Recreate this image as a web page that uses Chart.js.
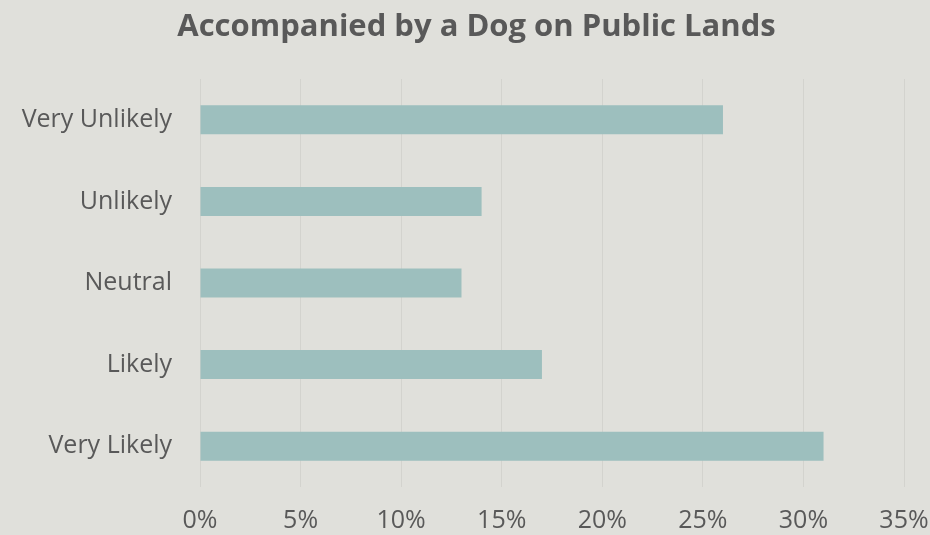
<!DOCTYPE html>
<html>
<head>
<meta charset="utf-8">
<script src="https://cdn.jsdelivr.net/npm/chart.js@4.4.0/dist/chart.umd.min.js"></script>
<style>
  html, body { margin: 0; padding: 0; background: #e0e0db; }
  #wrap { width: 930px; height: 535px; }
</style>
</head>
<body>
<div id="wrap"><canvas id="dogChart"></canvas></div>
<script>
const categories = ['Very Unlikely', 'Unlikely', 'Neutral', 'Likely', 'Very Likely'];
const shares = [26, 14, 13, 17, 31];
const tickLabels = ['0%', '5%', '10%', '15%', '20%', '25%', '30%', '35%'];
const chartTitle = 'Accompanied by a Dog on Public Lands';

const textColor = '#595959';
let dogChart;

// title drawn by hand so it can sit a little right of the canvas centre, like the original
const titlePlugin = {
    id: 'offsetTitle',
    afterDraw(chart) {
        const c = chart.ctx;
        c.save();
        c.font = 'bold 31px "Open Sans"';
        c.fillStyle = textColor;
        c.textAlign = 'center';
        c.textBaseline = 'alphabetic';
        c.fillText(chartTitle, 476.5, 36);
        c.restore();
    }
};

function chart_load() {
    const ctx = document.getElementById('dogChart').getContext('2d');
    if (dogChart instanceof Chart) {
        dogChart.destroy();
    }

    dogChart = new Chart(ctx, {
        type: 'bar',
        data: {
            labels: categories,
            datasets: [{
                data: shares,
                backgroundColor: '#9dbfbe',
                borderWidth: 0,
                categoryPercentage: 1,
                barPercentage: 0.355
            }]
        },
        options: {
            indexAxis: 'y',
            responsive: true,
            maintainAspectRatio: false,
            animation: false,
            layout: {
                padding: { left: 0, right: 0, top: 79, bottom: 0 }
            },
            plugins: {
                legend: { display: false },
                tooltip: { enabled: false },
                title: { display: false }
            },
            scales: {
                x: {
                    min: 0,
                    max: 35,
                    ticks: {
                        stepSize: 5,
                        color: textColor,
                        font: { family: 'Open Sans', size: 25 },
                        padding: 19,
                        callback: (v, i) => tickLabels[i]
                    },
                    grid: { color: '#d3d3ce', lineWidth: 1, drawTicks: false },
                    border: { display: false },
                    afterFit: (axis) => {
                        axis.height = 48;
                        axis.paddingRight = 26;
                    }
                },
                y: {
                    ticks: {
                        color: textColor,
                        font: { family: 'Open Sans', size: 25 },
                        padding: 28
                    },
                    grid: { display: false, drawTicks: false },
                    border: { display: false },
                    afterFit: (axis) => { axis.width = 200; }
                }
            }
        },
        plugins: [titlePlugin]
    });
}
chart_load();
</script>
</body>
</html>
